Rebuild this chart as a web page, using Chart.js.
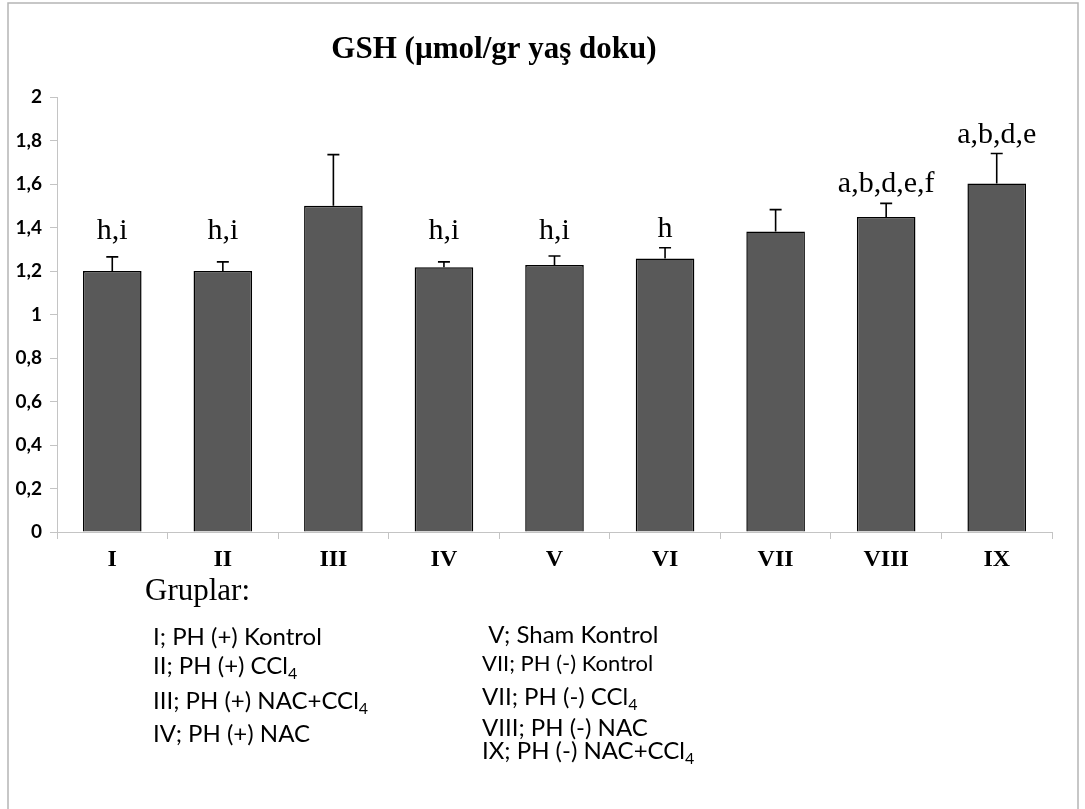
<!DOCTYPE html>
<html lang="tr">
<head>
<meta charset="utf-8">
<title>GSH (µmol/gr yaş doku)</title>
<script src="https://cdn.jsdelivr.net/npm/chart.js@4.4.1/dist/chart.umd.min.js"></script>
<style>
  html, body { margin: 0; padding: 0; background: #fff; }
  canvas { display: block; }
</style>
</head>
<body>
<canvas id="gsh" width="1085" height="809"></canvas>
<script>
// Groups, mean GSH level and the standard error of each group
const groups = ['I', 'II', 'III', 'IV', 'V', 'VI', 'VII', 'VIII', 'IX'];
const gshMean = [1.20, 1.20, 1.50, 1.217, 1.228, 1.257, 1.382, 1.448, 1.602];
const gshErr = [0.065, 0.042, 0.235, 0.025, 0.041, 0.05, 0.10, 0.063, 0.138];
// Significance letters written over each bar
const sigLetters = ['h,i', 'h,i', '', 'h,i', 'h,i', 'h', '', 'a,b,d,e,f', 'a,b,d,e'];

const chartTitle = 'GSH (µmol/gr yaş doku)';
const groupsHeading = 'Gruplar:';
// Group descriptions ("_" starts a subscript)
const notesLeft = ['I; PH (+) Kontrol', 'II; PH (+) CCl_4', 'III; PH (+) NAC+CCl_4', 'IV; PH (+) NAC'];
const notesRight = [' V; Sham Kontrol', 'VII; PH (-) Kontrol', 'VII; PH (-) CCl_4', 'VIII; PH (-) NAC', 'IX; PH (-) NAC+CCl_4'];

const SERIF = '"Liberation Serif", "Times New Roman", serif';
const SANS = 'Lato, "Open Sans", sans-serif';

function fmtTick(v) {
  return String(Number(v.toFixed(1))).replace('.', ',');
}

function drawRich(ctx, str, x, y, size, family) {
  const parts = str.split('_');
  ctx.font = size + 'px ' + family;
  ctx.textAlign = 'left';
  ctx.textBaseline = 'alphabetic';
  ctx.fillText(parts[0], x, y);
  if (parts[1]) {
    const w = ctx.measureText(parts[0]).width;
    ctx.font = Math.round(size * 0.66) + 'px ' + family;
    ctx.fillText(parts[1], x + w, y + size * 0.2);
  }
}

const decor = {
  id: 'decor',
  beforeDraw(chart) {
    const ctx = chart.ctx;
    ctx.save();
    ctx.fillStyle = '#fff';
    ctx.fillRect(0, 0, chart.width, chart.height);
    // chart frame
    ctx.strokeStyle = '#b5b5b5';
    ctx.lineWidth = 1.5;
    ctx.strokeRect(8, 3, 1070, 830);
    ctx.restore();
  },
  afterDatasetsDraw(chart) {
    // error bars: upper arm with a cap
    const ctx = chart.ctx;
    const y = chart.scales.y;
    const meta = chart.getDatasetMeta(0);
    ctx.save();
    ctx.strokeStyle = '#000';
    ctx.lineWidth = 1.6;
    meta.data.forEach((bar, i) => {
      const top = y.getPixelForValue(gshMean[i] + gshErr[i]);
      const base = y.getPixelForValue(gshMean[i]);
      ctx.beginPath();
      ctx.moveTo(bar.x, base);
      ctx.lineTo(bar.x, top);
      ctx.moveTo(bar.x - 6, top);
      ctx.lineTo(bar.x + 6, top);
      ctx.stroke();
    });
    ctx.restore();
  },
  afterDraw(chart) {
    const ctx = chart.ctx;
    const y = chart.scales.y;
    const meta = chart.getDatasetMeta(0);
    ctx.save();
    ctx.fillStyle = '#000';

    // title
    ctx.font = 'bold 31px ' + SERIF;
    ctx.textAlign = 'center';
    ctx.textBaseline = 'alphabetic';
    ctx.fillText(chartTitle, 494, 58);

    // significance letters; those over the shorter bars share one baseline
    ctx.font = '30px ' + SERIF;
    const rowLine = y.getPixelForValue(1.345);
    meta.data.forEach((bar, i) => {
      if (!sigLetters[i]) return;
      const cap = y.getPixelForValue(gshMean[i] + gshErr[i]);
      ctx.fillText(sigLetters[i], bar.x, Math.min(cap - 11, rowLine));
    });

    // group descriptions
    ctx.font = '31px ' + SERIF;
    ctx.textAlign = 'left';
    ctx.fillText(groupsHeading, 145, 600);

    const leftBase = [645, 674, 709, 742];
    notesLeft.forEach((t, i) => drawRich(ctx, t, 153, leftBase[i], 24, SANS));
    const rightBase = [643, 671, 705, 736, 759];
    const rightSize = [24, 22, 24, 24, 24];
    notesRight.forEach((t, i) => drawRich(ctx, t, 482, rightBase[i], rightSize[i], SANS));
    ctx.restore();
  }
};

new Chart(document.getElementById('gsh'), {
  type: 'bar',
  data: {
    labels: groups,
    datasets: [{
      data: gshMean,
      backgroundColor: '#595959',
      borderColor: '#000',
      borderWidth: 1.5,
      barPercentage: 0.53,
      categoryPercentage: 1
    }]
  },
  options: {
    responsive: false,
    devicePixelRatio: 1,
    animation: false,
    layout: { padding: { top: 97, right: 33, bottom: 0, left: 0 } },
    plugins: {
      legend: { display: false },
      tooltip: { enabled: false },
      title: { display: false }
    },
    scales: {
      x: {
        grid: { offset: true, drawOnChartArea: false, tickLength: 7, color: '#c4c4c4', lineWidth: 1 },
        border: { color: '#c4c4c4', width: 1 },
        ticks: {
          font: { family: SERIF, size: 24, weight: 'bold' },
          color: '#000',
          padding: 6,
          maxRotation: 0,
          autoSkip: false
        },
        afterFit(s) { s.height = 277; }
      },
      y: {
        min: 0,
        max: 2,
        grid: { drawOnChartArea: false, tickLength: 7, color: '#c4c4c4', lineWidth: 1 },
        border: { color: '#c4c4c4', width: 1 },
        ticks: {
          stepSize: 0.2,
          callback: (v) => fmtTick(v),
          font: { family: SANS, size: 19, weight: 'bold' },
          color: '#000',
          padding: 8
        },
        afterFit(s) { s.width = 57; }
      }
    }
  },
  plugins: [decor]
});
</script>
</body>
</html>
